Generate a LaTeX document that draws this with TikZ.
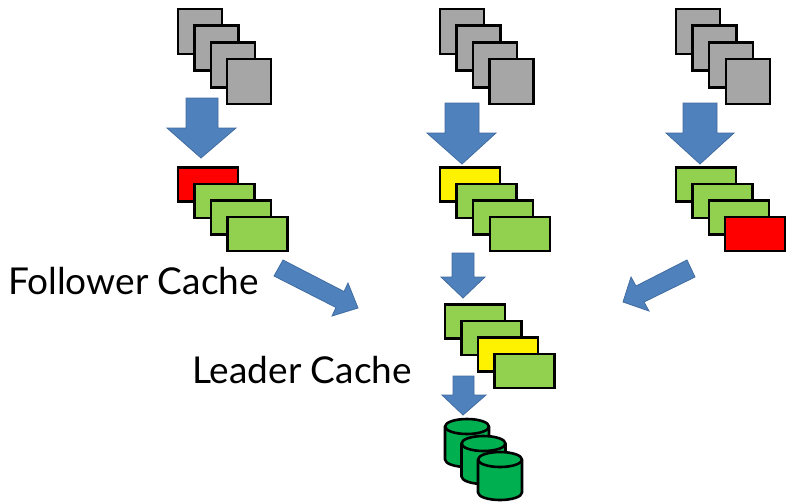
\documentclass[tikz,border=0pt]{standalone}
\usepackage{fontspec}
\setmainfont{Lato}
\definecolor{boxgray}{RGB}{166,166,166}
\definecolor{boxgreen}{RGB}{146,208,80}
\definecolor{diskgreen}{RGB}{0,176,80}
\definecolor{arrowblue}{RGB}{79,129,189}
\definecolor{arrowedge}{RGB}{65,108,160}
\tikzset{
  page box/.style = {draw = black, line width = 2.6pt, fill = boxgray, inner sep = 0pt, minimum width = 44pt, minimum height = 45pt},
  cache box/.style = {draw = black, line width = 2.6pt, fill = boxgreen, inner sep = 0pt, minimum width = 60pt, minimum height = 34pt},
  block arrow/.style = {draw = arrowedge, line width = 0.8pt, fill = arrowblue},
  label text/.style = {inner sep = 0pt, anchor = base west, font = \fontsize{37}{37}\selectfont},
  pics/disk/.style = {code = {
    \draw [line width = 2.6pt, fill = diskgreen, line join = round] (-22,0) arc (180:0:22pt and 7.5pt) -- (22,33) arc (0:-180:22pt and 7.5pt) -- cycle;
    \draw [line width = 2.6pt] (-22,0) arc (180:360:22pt and 7.5pt);
  }}
}
\begin{document}
\begin{tikzpicture}[x = 1pt, y = -1pt]
\useasboundingbox (0,0) rectangle (786,501);
% pages, left
\node [page box] (p1) at (200,31.5) {};
\node [page box] (p2) at (216.5,48) {};
\node [page box] (p3) at (233,65) {};
\node [page box] (p4) at (249,81.5) {};
% pages, middle
\node [page box] (p5) at (462,31.5) {};
\node [page box] (p6) at (478.5,48) {};
\node [page box] (p7) at (495,65) {};
\node [page box] (p8) at (511.5,81.5) {};
% pages, right
\node [page box] (p9) at (698,31.5) {};
\node [page box] (p10) at (714.5,48) {};
\node [page box] (p11) at (731,65) {};
\node [page box] (p12) at (748,81.5) {};
% follower caches
\node [cache box, fill = red] (f1) at (208,184.5) {};
\node [cache box] (f2) at (224.5,201) {};
\node [cache box] (f3) at (241,217.5) {};
\node [cache box] (f4) at (257.5,234) {};
\node [cache box, fill = yellow] (f5) at (470,184.5) {};
\node [cache box] (f6) at (486.5,201) {};
\node [cache box] (f7) at (503,217.5) {};
\node [cache box] (f8) at (520,234) {};
\node [cache box] (f9) at (706,184.5) {};
\node [cache box] (f10) at (722.5,201) {};
\node [cache box] (f11) at (739,217.5) {};
\node [cache box, fill = red] (f12) at (755,234) {};
% leader cache
\node [cache box] (l1) at (475,321.5) {};
\node [cache box] (l2) at (491.5,338) {};
\node [cache box, fill = yellow] (l3) at (508,354.5) {};
\node [cache box] (l4) at (524.5,371) {};
% database
\pic (d1) at (467,426.5) {disk};
\pic (d2) at (483.5,443.5) {disk};
\pic (d3) at (500,459.5) {disk};
% arrows
\draw [block arrow] (186,98) -- (218,98) -- (218,128) -- (236,128) -- (201,158) -- (167,128) -- (186,128) -- cycle;
\draw [block arrow] (445,103) -- (479,103) -- (479,133) -- (496,133) -- (462,164) -- (427,133) -- (445,133) -- cycle;
\draw [block arrow] (683,103) -- (717,103) -- (717,133) -- (734,133) -- (700,164) -- (666,133) -- (683,133) -- cycle;
\draw [block arrow] (452,253) -- (474,253) -- (474,277) -- (485,277) -- (463,298) -- (441,277) -- (452,277) -- cycle;
\draw [block arrow] (453,376) -- (474,376) -- (474,395) -- (486,395) -- (463,415) -- (442,395) -- (453,395) -- cycle;
\draw [block arrow] (283,260) -- (344,291.5) -- (348,283) -- (358,308) -- (332,316) -- (336,307.5) -- (274,276) -- cycle;
\draw [block arrow] (687,260) -- (695,277) -- (644,302) -- (649,311) -- (623,302) -- (631,277) -- (636,286) -- cycle;
% labels
\node [label text] (t1) at (8,294) {Follower Cache};
\node [label text] (t2) at (192,383) {Leader Cache};
\end{tikzpicture}
\end{document}
